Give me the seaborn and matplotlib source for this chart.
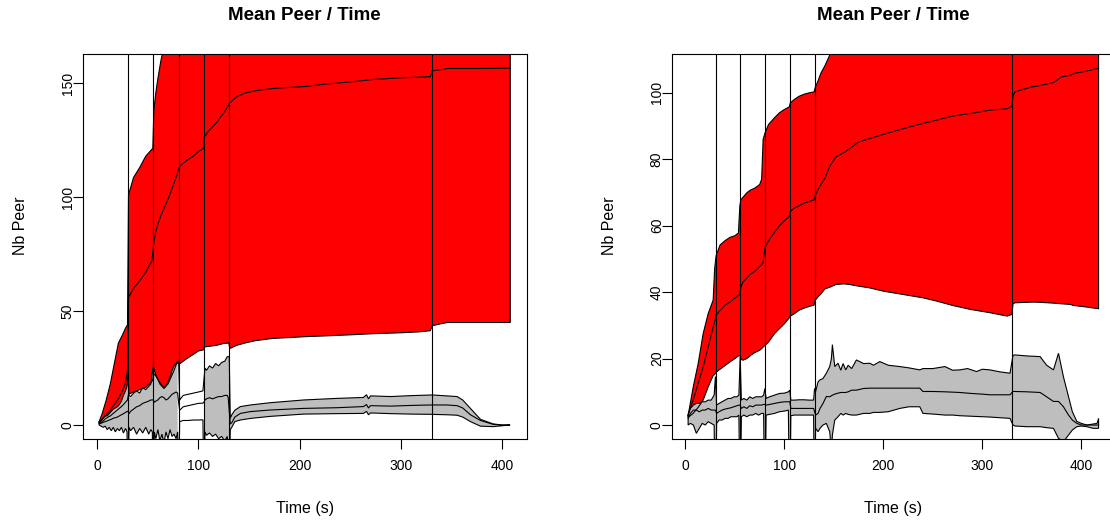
import numpy as np
import matplotlib
matplotlib.use("Agg")
import matplotlib.pyplot as plt
import seaborn as sns
import pandas as pd

sns.set_style("white")
plt.rcParams['font.family'] = ['Liberation Sans', 'DejaVu Sans']
plt.rcParams['text.color'] = 'black'
plt.rcParams['axes.labelcolor'] = 'black'
plt.rcParams['xtick.color'] = 'black'
plt.rcParams['ytick.color'] = 'black'

# ---------------- data ----------------
restart_times = [30.5, 55.5, 80.5, 105.5, 130.5, 330.5]

# Left panel: red band (low / mean / high)
left_red_t = [2, 5, 9, 13, 17, 21, 25, 28, 30, 31, 36, 42, 48, 54, 55, 56, 58, 60, 63, 66, 70, 75, 79, 80,
              82, 88, 95, 100, 105, 106, 110, 118, 125, 130, 131, 138, 146, 156, 173, 190, 206, 224,
              250, 273, 300, 318, 329, 331, 340, 346, 380, 408]
left_red_lo = [0.5, 1.5, 3, 4, 5.5, 7, 8.5, 10, 11, 13.5, 14.5, 15.5, 16.5, 19, 20, 22.5, 21.5, 20, 18, 16.5,
               18, 23, 27.5, 27, 27, 29, 31, 32.5, 33, 34.3, 34.5, 35, 35.8, 36, 33.6, 35, 36, 37, 38,
               38.4, 38.8, 39.1, 39.6, 40.1, 40.5, 40.9, 41.4, 43.6, 44.5, 45, 45, 45]
left_red_mid = [1, 2.5, 4.5, 6.5, 9, 11.5, 15, 18.5, 24, 56, 60, 63.3, 67, 72, 76, 80, 85, 88, 92, 95, 99,
                105, 110, 112, 113.8, 116, 118, 120, 121.5, 126.5, 129, 132.8, 137, 140.5, 141.5,
                144.2, 145.7, 146.7, 147.7, 148.2, 148.6, 149.6, 150.6, 151.7, 152.4, 152.7, 152.9,
                155.5, 156, 156.5, 156.5, 156.6]
left_red_hi = [1.5, 5, 11, 18, 27, 36, 39.5, 42.5, 44, 101, 108.7, 113, 118, 121, 121.5, 138, 146, 152, 160,
               166, 180, 188, 192, 197, 200, 203, 205, 207, 210, 218, 223, 230, 238, 245, 249, 253,
               255, 256, 257, 258, 258, 260, 262, 263, 264, 264.5, 264.5, 267, 267.5, 268, 268, 268]

# Left panel: grey band
left_grey_t = [2, 4, 6, 8, 10, 12, 14, 16, 18, 20, 22, 24, 26, 28, 29.5,
               30.5,
               31.5, 33, 36, 39, 42, 45, 48, 51, 53, 54.5,
               55.5,
               56.5, 58, 60, 62, 64, 66, 68, 70, 72, 74, 76, 78, 79.5,
               80.5,
               81.5, 85, 90, 95, 100, 104.5,
               105.5,
               106.5, 108, 111, 114, 117, 120, 123, 126, 128.5, 129.5,
               130.5,
               131.5, 133, 136, 141.5, 151.4, 171, 204, 237, 263, 266, 268, 270, 290, 309.5, 329.2,
               331, 345.7, 355.5, 361, 368.7, 378.6, 391, 400, 407.6]
left_grey_hi = [1, 2, 3, 4, 4, 5, 6, 7, 7.5, 8, 9, 10.5, 13, 15, 17,
                22,
                13, 12.5, 14, 15, 14, 16.5, 15.5, 17, 18, 23,
                26,
                24, 22, 20, 18, 17, 16, 17, 19, 21, 24, 26, 27, 28,
                28,
                11, 13, 13.5, 14, 14.5, 15,
                20,
                25, 24, 26, 25, 27, 26, 27.5, 28, 30, 30,
                30,
                3, 4.5, 6.5, 8.1, 8.8, 9.8, 11, 11.7, 12.1, 13.3, 11.5, 12.8, 12.5, 12.9, 13.2,
                13.2, 12.8, 12.5, 11, 7.3, 2.5, 0.5, 0, 0]
left_grey_mid = [0.5, 0.8, 1.2, 1.5, 1.8, 2.2, 2.5, 3, 3.2, 3.5, 4, 4.5, 5, 5.5, 6,
                 6,
                 5, 6, 7, 8, 8.5, 9.5, 10, 10.5, 11, 11,
                 11,
                 10, 10.5, 11, 12, 12.5, 12, 11, 11.5, 12.5, 13.5, 14, 14.5, 14,
                 10,
                 6.5, 8, 8.5, 9, 9.5, 9.6,
                 10,
                 11, 11.5, 12, 11.5, 12, 12.5, 12.5, 13, 13, 12,
                 6,
                 0.5, 1, 3.5, 5.1, 5.9, 6.6, 7.3, 7.6, 8.1, 9, 7.5, 8.5, 8.3, 8.6, 8.8,
                 8.8, 8.8, 8.5, 7.5, 4.5, 2, 0.3, 0, 0]
left_grey_lo = [0, -0.5, -1, -0.5, -2, -1, -2.5, -1, -3, -1.5, -2.5, -1, -3.5, -1.5, -3,
                -30,
                -1, -2.5, -1, -4, -1.5, -3.5, -1, -4, -2, -3,
                -30,
                -3, -6, -2, -7, -4, -8, -3, -6, -2, -5, -4, -6, -3,
                -30,
                1.5, 2, 2, 2.2, 2.2, 2.3,
                -30,
                -3, -4.5, -3.5, -5, -4, -6, -5, -7, -5, -10,
                -30,
                -2, -1, 1.5, 2.2, 2.9, 3.8, 4.8, 5, 5.1, 6, 4.5, 5.3, 5, 4.8, 4.7,
                4.7, 4.5, 4.3, 3.5, 1.5, -0.5, -0.7, -0.3, 0]
left_grey_unfilled = [(80.5, 105.5)]

# Right panel: red band
right_red_t = [2.7, 7.8, 12.8, 17.9, 23, 28, 29.5, 31, 35, 40, 45, 50, 53.5, 55, 56, 58, 62, 66, 70,
               75, 77, 78.5, 80.5, 84, 90, 95, 100, 105, 106, 110, 115, 120, 125, 130, 131, 134, 137,
               141, 146, 152, 160, 166, 175, 186, 200, 220, 240, 254, 270, 288, 308, 325, 330, 331,
               333, 350, 355, 372, 380, 389, 392, 406, 417.5]
right_red_lo = [2.3, 3.5, 5.3, 7.5, 11.5, 14.9, 15.2, 15.9, 16.8, 17.9, 19, 20, 20.8, 21, 20, 19.5, 20,
                21, 21.8, 22.5, 23, 23.5, 24, 25, 27.5, 29, 30.5, 32.3, 32.8, 33.5, 34.6, 35.2, 35.7,
                36.1, 37.5, 38.6, 39.5, 41, 41.5, 42.3, 42.5, 42.3, 41.8, 41.3, 40.3, 39.3, 38.3,
                37.3, 36, 34.8, 33.8, 32.8, 33.3, 36.5, 36.8, 37, 37, 36.7, 36.5, 36.3, 36, 35.5, 35]
right_red_mid = [3.3, 7.5, 12.5, 17.5, 23.5, 29.5, 31, 33.1, 34.5, 36.1, 37, 38.2, 39, 39.3, 41.5, 43,
                 44.3, 45.5, 46.3, 47.7, 48.3, 49, 53.5, 55.5, 58, 60, 61.5, 62.8, 64.3, 65.3, 66,
                 66.8, 67.3, 67.8, 69, 70.9, 72.5, 74.3, 78, 80.7, 82, 83.2, 85.2, 86.2, 87.5, 89.2,
                 90.8, 91.8, 93, 93.8, 94.8, 95.2, 96, 99, 100.3, 101.8, 102, 103.1, 104.8, 105.3,
                 105.8, 106.6, 107.4]
right_red_hi = [2.8, 11.4, 18.4, 27.5, 33.6, 37.6, 47, 51, 54.2, 55.5, 56.5, 57, 57.8, 66, 67.8, 68.5,
                69.9, 70.8, 71.3, 72.4, 74, 86, 88, 90.5, 92.5, 94, 95, 95.8, 97, 98, 99, 99.6, 100,
                100.3, 101.5, 103.6, 106, 108.2, 111.5, 118, 121, 124, 128, 131, 134, 139, 143, 146,
                150, 153, 156, 158, 159, 162, 164, 166, 167, 169, 173, 174, 175, 177, 179]

# Right panel: grey band
right_grey_t = [2.7, 5, 8, 11, 14, 17, 20, 23, 26, 29,
                30.3,
                31.5, 34, 37, 40, 43, 46, 49, 52, 54,
                55.3,
                56.5, 59, 62, 65, 68, 71, 74, 77, 79,
                80.3,
                81.5, 85, 90, 95, 100, 104,
                105.5,
                106.5, 110, 115, 120, 125, 129.5,
                130.5,
                131.5, 134, 136, 139, 142.4, 145.8, 147.5, 148.5, 150.9, 154.2, 157, 159.3, 162,
                164.4, 168, 172.8, 180, 186.3, 190, 196.4, 205, 216.6, 226, 236.8, 240, 250, 262.2,
                270, 277.4, 285, 294.2, 300, 307.7, 318, 328, 331, 333.1, 345, 358.4, 365, 371.9,
                377, 382, 387.1, 391, 395.5, 400, 405.7, 412, 416, 417.5]
right_grey_hi = [3, 5, 6, 6.5, 6.5, 7, 7, 7.5, 7.5, 9,
                 14.6,
                 6, 6.5, 7, 7.5, 8, 8, 8.5, 8.5, 9,
                 20.5,
                 7.5, 8, 7.5, 8.5, 8, 8.5, 8.5, 8.5, 9,
                 11,
                 8, 8.5, 9, 9.5, 9.6, 10,
                 10.5,
                 7.5, 7.5, 7.6, 7.6, 7.5, 7.5,
                 11,
                 10, 13, 13.6, 14, 15.6, 17.6, 20, 24.2, 17.6, 18.6, 16.5, 18.5, 16.6,
                 18, 17, 19.6, 18.5, 18.6, 18, 19.1, 18, 17.6, 17.2, 16.6, 17, 17, 17.6,
                 16.5, 16.6, 17, 16.1, 16.8, 16.6, 16, 15.6, 21, 21.1, 20.8, 20.6, 18, 16.6,
                 21.6, 14.5, 8.6, 4, 1.1, 0.5, 0, 0.3, 0.5, 2]
right_grey_mid = [2, 3.5, 4.5, 4.5, 4, 4.5, 4.5, 5, 4.5, 4.5,
                  4.5,
                  3.5, 4, 4.5, 4.8, 5, 5.2, 5.5, 5.8, 6,
                  6,
                  5, 5.5, 5, 5.8, 5.5, 6, 6, 6, 6.2,
                  6.2,
                  6, 6.2, 6.5, 6.8, 7, 7,
                  7,
                  5, 5, 5, 5, 5, 5,
                  4,
                  3, 3.5, 5, 6.5, 8.6, 8.5, 8.8, 9, 9.3, 9.6, 9.8, 9.8, 9.8,
                  10, 10.5, 10.5, 11, 11.1, 11.1, 11.1, 11.1, 11.1, 11.1, 11.1, 10.1, 10.1, 10,
                  9.9, 9.8, 9.6, 9.4, 9.3, 9.1, 9.1, 9.1, 10.1, 10.1, 10, 9.8, 8.5, 7.1,
                  7.1, 5.5, 3, 1.5, 0.5, 0, 0, 0, 0, 0]
right_grey_lo = [0, 0.5, 0, -2.5, -1, 0.5, 0, 1, 0.5, 0,
                 -30,
                 0.5, 1.5, 1.5, 2, 2, 2.5, 2.5, 2.5, 3,
                 -30,
                 2.5, 3, 2.5, 3, 3, 3.5, 3, 3.5, 3.5,
                 -30,
                 3, 3.2, 3.5, 4, 4.2, 4.5,
                 -30,
                 2.8, 3, 3, 3, 3, 3,
                 -30,
                 -1, -2, -1, 0, 0.5, -2, -8, -3, 1.5, 2.5, 3.5, 3, 3.5,
                 3.2, 3, 3, 3.5, 3.5, 3.8, 3.8, 4, 5, 5.5, 5.5, 3.5, 3.3, 3,
                 3, 2.8, 2.7, 2.6, 2.5, 2.4, 2.2, 2, 0, -0.3, -0.5, -0.5, -0.8, -1,
                 -4, -5, -3, -1.5, -0.5, -0.3, -0.5, -1, -1, -1]
right_grey_unfilled = []

left_xticks = [0, 100, 200, 300, 400]
left_yticks = [0, 50, 100, 150]
right_xticks = [0, 100, 200, 300, 400]
right_yticks = [0, 20, 40, 60, 80, 100]

TITLE = "Mean Peer / Time"
XLABEL = "Time (s)"
YLABEL = "Nb Peer"

# ---------------- drawing ----------------
W, H = 1110, 522
fig = plt.figure(figsize=(W / 100, H / 100), dpi=100)
AX_HPX = 385.3
ax_h = AX_HPX / H
ax_b = (H - 439.3) / H
axL = fig.add_axes([82.7 / W, ax_b, 444.0 / W, ax_h])
axR = fig.add_axes([671.7 / W, ax_b, 443.3 / W, ax_h])

LW = 0.8


def band(ax, t, lo, mid, hi, color, unfilled=()):
    t = np.asarray(t, float)
    lo = np.asarray(lo, float)
    mid = np.asarray(mid, float)
    hi = np.asarray(hi, float)
    assert len(t) == len(lo) == len(mid) == len(hi), (len(t), len(lo), len(mid), len(hi))
    mask = np.ones(len(t), bool)
    for a, b in unfilled:
        mask &= ~((t >= a) & (t <= b))
    ax.fill_between(t, lo, hi, where=mask, facecolor=color, edgecolor="none",
                    interpolate=False, linewidth=0)
    # polygon outline (closed, like R polygon border)
    px = np.r_[t, t[::-1], t[:1]]
    py = np.r_[hi, lo[::-1], hi[:1]]
    ax.plot(px, py, color="black", lw=LW, solid_joinstyle="miter")
    df = pd.DataFrame({"t": t, "v": mid})
    sns.lineplot(data=df, x="t", y="v", ax=ax, color="black", lw=LW,
                 estimator=None, sort=False)


def panel(ax, red, grey, grey_unfilled, xticks, yticks, ax_wpx):
    band(ax, *red, color="#FF0000")
    band(ax, *grey, color="#BEBEBE", unfilled=grey_unfilled)
    for t in restart_times:
        ax.axvline(t, color="black", lw=LW)
    # R style 4% axis extension
    t_all = np.asarray(red[0], float)
    m_all = np.asarray(red[2], float)
    r = t_all.max() - t_all.min()
    ax.set_xlim(t_all.min() - 0.04 * r, t_all.max() + 0.04 * r)
    r = m_all.max() - 0.0
    ax.set_ylim(0 - 0.04 * r, m_all.max() + 0.04 * r)
    ax.set_xticks(xticks)
    ax.set_yticks(yticks)
    ax.set_xticklabels([str(v) for v in xticks])
    ax.set_yticklabels([str(v) for v in yticks], rotation=90, va="center")
    ax.tick_params(direction="out", length=7, width=LW, color="black",
                   labelsize=10, bottom=True, left=True, labelcolor="black")
    ax.tick_params(axis="x", pad=7)
    ax.tick_params(axis="y", pad=-1.3)
    for s in ax.spines.values():
        s.set_visible(True)
        s.set_color("black")
        s.set_linewidth(LW)
    ax.set_xlabel("")
    ax.set_ylabel("")
    ax.text(0.5, 1 + 39 / AX_HPX, TITLE, transform=ax.transAxes, ha="center", va="center",
            fontsize=13.5, fontweight="bold", color="black")
    ax.text(0.5, -69.7 / AX_HPX, XLABEL, transform=ax.transAxes, ha="center", va="center",
            fontsize=11.5, color="black")
    ax.text(-62.5 / ax_wpx, (439.3 - 226) / AX_HPX, YLABEL, transform=ax.transAxes,
            ha="center", va="center", rotation=90, fontsize=11.5, color="black")


panel(axL, (left_red_t, left_red_lo, left_red_mid, left_red_hi),
      (left_grey_t, left_grey_lo, left_grey_mid, left_grey_hi), left_grey_unfilled,
      left_xticks, left_yticks, 444.0)
panel(axR, (right_red_t, right_red_lo, right_red_mid, right_red_hi),
      (right_grey_t, right_grey_lo, right_grey_mid, right_grey_hi), right_grey_unfilled,
      right_xticks, right_yticks, 443.3)

fig.savefig("out.png", dpi=100)
